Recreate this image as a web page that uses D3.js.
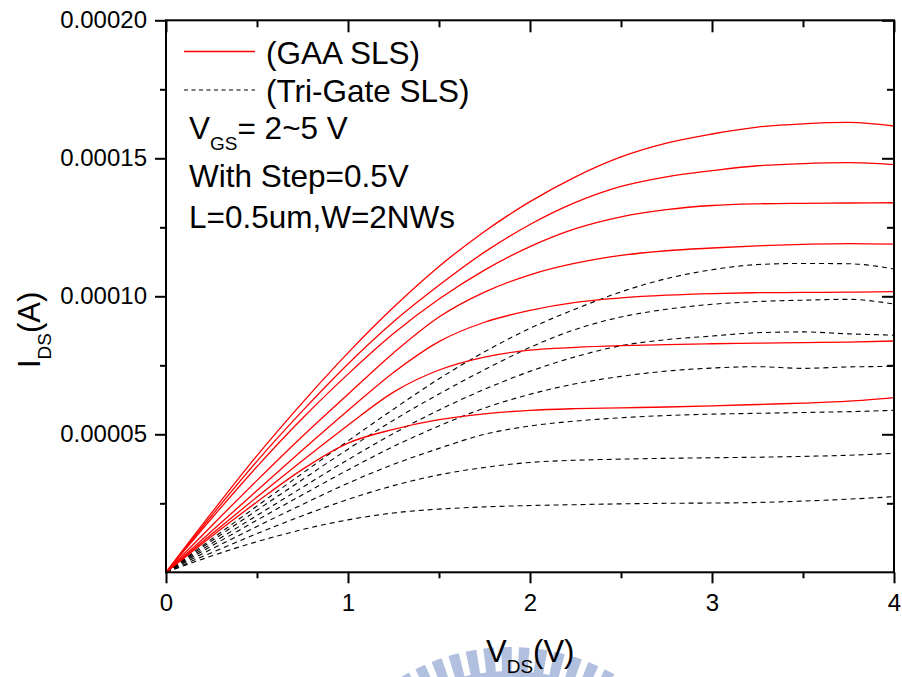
<!DOCTYPE html>
<html>
<head>
<meta charset="utf-8">
<script src="https://cdn.jsdelivr.net/npm/d3@7"></script>
<style>
  body { margin: 0; background: #fff; }
  svg { display: block; }
  text { font-family: "Liberation Sans", Arial, sans-serif; fill: #000; }
</style>
</head>
<body>
<svg id="chart" width="902" height="677"></svg>
<script>
// Drain voltage sample points (V)
const vds = [0, 0.25, 0.5, 0.75, 1.0, 1.25, 1.5, 1.75, 2.0, 2.25, 2.5, 2.75, 3.0, 3.25, 3.5, 3.75, 4.0];

// Drain current in units of 1e-5 A, VGS = 5.0 V down to 2.0 V in 0.5 V steps
const currentUnit = 1e-5;

const gaaSLS = [
  [0, 2.15, 4.23, 6.15, 7.95, 9.60, 11.08, 12.35, 13.43, 14.33, 15.05, 15.55, 15.88, 16.13, 16.25, 16.30, 16.17],
  [0, 2.05, 4.03, 5.85, 7.55, 9.08, 10.40, 11.60, 12.60, 13.40, 13.98, 14.33, 14.55, 14.73, 14.81, 14.84, 14.77],
  [0, 1.95, 3.83, 5.58, 7.18, 8.65, 9.90, 10.95, 11.80, 12.45, 12.88, 13.14, 13.29, 13.35, 13.37, 13.38, 13.39],
  [0, 1.68, 3.33, 4.93, 6.45, 7.95, 9.25, 10.15, 10.78, 11.20, 11.48, 11.65, 11.75, 11.83, 11.88, 11.91, 11.89],
  [0, 1.49, 2.96, 4.43, 5.86, 7.24, 8.36, 9.06, 9.49, 9.78, 9.94, 10.04, 10.10, 10.13, 10.14, 10.15, 10.17],
  [0, 1.38, 2.73, 4.05, 5.33, 6.53, 7.33, 7.80, 8.05, 8.15, 8.21, 8.25, 8.28, 8.30, 8.32, 8.34, 8.38],
  [0, 1.30, 2.55, 3.73, 4.68, 5.18, 5.53, 5.74, 5.87, 5.93, 5.96, 5.99, 6.03, 6.08, 6.13, 6.20, 6.33]
];

const triGateSLS = [
  [0, 1.20, 2.40, 3.59, 4.76, 5.91, 7.01, 7.99, 8.84, 9.54, 10.16, 10.64, 10.96, 11.15, 11.19, 11.18, 10.99],
  [0, 1.13, 2.25, 3.36, 4.46, 5.51, 6.46, 7.34, 8.15, 8.80, 9.25, 9.53, 9.71, 9.81, 9.86, 9.89, 9.72],
  [0, 1.04, 2.06, 3.08, 4.08, 5.03, 5.88, 6.63, 7.28, 7.81, 8.21, 8.43, 8.56, 8.68, 8.71, 8.64, 8.59],
  [0, 0.95, 1.89, 2.81, 3.71, 4.56, 5.30, 5.95, 6.45, 6.83, 7.10, 7.29, 7.40, 7.45, 7.39, 7.44, 7.46],
  [0, 0.84, 1.66, 2.46, 3.23, 3.91, 4.49, 5.00, 5.30, 5.48, 5.60, 5.68, 5.73, 5.76, 5.79, 5.82, 5.87],
  [0, 0.71, 1.40, 2.05, 2.64, 3.14, 3.53, 3.80, 3.98, 4.06, 4.10, 4.13, 4.15, 4.17, 4.20, 4.24, 4.31],
  [0, 0.59, 1.11, 1.55, 1.90, 2.15, 2.29, 2.37, 2.42, 2.45, 2.48, 2.50, 2.51, 2.53, 2.58, 2.65, 2.74]
];

// Axis ticks
const xMajorTicks = [0, 1, 2, 3, 4];
const xMinorTicks = [0.5, 1.5, 2.5, 3.5];
const yMajorTicks = [0.00005, 0.00010, 0.00015, 0.00020];
const yMinorTicks = [0.000025, 0.000075, 0.000125, 0.000175];

// Legend / annotation text
const legendEntries = ["(GAA SLS)", "(Tri-Gate SLS)"];
const noteLines = ["With Step=0.5V", "L=0.5um,W=2NWs"];

const svg = d3.select("#chart");
const plotLeft = 166, plotRight = 894, plotTop = 20.3, plotBottom = 572.3;

const x = d3.scaleLinear().domain([0, 4]).range([plotLeft, plotRight]);
const y = d3.scaleLinear().domain([0, 0.0002]).range([plotBottom, plotTop]);

// Faint circular emblem behind the axis title
const emblem = svg.append("g")
  .attr("transform", "translate(510,860)")
  .attr("fill", "rgb(178,192,224)");
emblem.append("path")
  .attr("d", d3.arc()({ innerRadius: 150, outerRadius: 189, startAngle: 0, endAngle: 2 * Math.PI }));
for (let a = -180; a < 180; a += 4.8) {
  emblem.append("path")
    .attr("d", d3.arc()({
      innerRadius: 188, outerRadius: 213,
      startAngle: a * Math.PI / 180, endAngle: (a + 2.9) * Math.PI / 180
    }));
}

// Curves
const line = d3.line()
  .x((d, i) => x(vds[i]))
  .y(d => y(d * currentUnit))
  .curve(d3.curveMonotoneX);

const curves = svg.append("g");
triGateSLS.forEach(s => {
  curves.append("path")
    .attr("d", line(s))
    .attr("fill", "none")
    .attr("stroke", "#000")
    .attr("stroke-width", 1.1)
    .attr("stroke-dasharray", "5,4");
});
gaaSLS.forEach(s => {
  curves.append("path")
    .attr("d", line(s))
    .attr("fill", "none")
    .attr("stroke", "#ff0000")
    .attr("stroke-width", 1.3);
});

// Axes
const fmtY = d3.format(".5f");
const tickFont = 24;

function styleAxis(g) {
  g.select(".domain").remove();
  g.selectAll(".tick line").attr("stroke", "#000").attr("stroke-width", 2);
  g.selectAll(".tick text").style("font-size", tickFont + "px").attr("fill", "#000");
}

// bottom (outward)
svg.append("g").attr("transform", `translate(0,${plotBottom})`)
  .call(d3.axisBottom(x).tickValues(xMajorTicks).tickSize(11).tickPadding(11).tickFormat(d3.format("d")))
  .call(styleAxis);
svg.append("g").attr("transform", `translate(0,${plotBottom})`)
  .call(d3.axisBottom(x).tickValues(xMinorTicks).tickSize(6).tickFormat(""))
  .call(styleAxis);
// top (inward)
svg.append("g").attr("transform", `translate(0,${plotTop})`)
  .call(d3.axisBottom(x).tickValues(xMajorTicks).tickSize(12).tickFormat(""))
  .call(styleAxis);
svg.append("g").attr("transform", `translate(0,${plotTop})`)
  .call(d3.axisBottom(x).tickValues(xMinorTicks).tickSize(7).tickFormat(""))
  .call(styleAxis);
// left (outward)
svg.append("g").attr("transform", `translate(${plotLeft},0)`)
  .call(d3.axisLeft(y).tickValues(yMajorTicks).tickSize(11).tickPadding(8).tickFormat(fmtY))
  .call(styleAxis);
svg.append("g").attr("transform", `translate(${plotLeft},0)`)
  .call(d3.axisLeft(y).tickValues(yMinorTicks).tickSize(6).tickFormat(""))
  .call(styleAxis);
// right (inward)
svg.append("g").attr("transform", `translate(${plotRight},0)`)
  .call(d3.axisLeft(y).tickValues(yMajorTicks).tickSize(12).tickFormat(""))
  .call(styleAxis);
svg.append("g").attr("transform", `translate(${plotRight},0)`)
  .call(d3.axisLeft(y).tickValues(yMinorTicks).tickSize(7).tickFormat(""))
  .call(styleAxis);

// Frame
svg.append("rect")
  .attr("x", plotLeft).attr("y", plotTop)
  .attr("width", plotRight - plotLeft).attr("height", plotBottom - plotTop)
  .attr("fill", "none").attr("stroke", "#000").attr("stroke-width", 2);

// Axis titles
const xt = svg.append("text").attr("x", 486).attr("y", 662).style("font-size", "31px");
xt.append("tspan").text("V");
xt.append("tspan").attr("dy", 11).style("font-size", "19px").text("DS");
xt.append("tspan").attr("dy", -11).text("(V)");

const yt = svg.append("text")
  .attr("transform", "translate(40,368) rotate(-90)")
  .style("font-size", "31px");
yt.append("tspan").text("I");
yt.append("tspan").attr("dy", 11).style("font-size", "19px").text("DS");
yt.append("tspan").attr("dy", -11).text("(A)");

// Legend
const legendFont = "31.5px";
const lg = svg.append("g");
lg.append("line").attr("x1", 184).attr("x2", 255).attr("y1", 51.5).attr("y2", 51.5)
  .attr("stroke", "#ff0000").attr("stroke-width", 1.3);
lg.append("line").attr("x1", 184).attr("x2", 255).attr("y1", 90).attr("y2", 90)
  .attr("stroke", "#000").attr("stroke-width", 1.1).attr("stroke-dasharray", "4,3.5");
lg.append("text").attr("x", 266).attr("y", 64).style("font-size", legendFont).text(legendEntries[0]);
lg.append("text").attr("x", 266).attr("y", 102).style("font-size", legendFont).text(legendEntries[1]);

const vg = lg.append("text").attr("x", 189).attr("y", 139).style("font-size", legendFont);
vg.append("tspan").text("V");
vg.append("tspan").attr("dy", 11).style("font-size", "19px").text("GS");
vg.append("tspan").attr("dy", -11).text("= 2~5 V");
lg.append("text").attr("x", 189).attr("y", 187).style("font-size", legendFont).text(noteLines[0]);
lg.append("text").attr("x", 189).attr("y", 228).style("font-size", legendFont).text(noteLines[1]);
</script>
</body>
</html>
